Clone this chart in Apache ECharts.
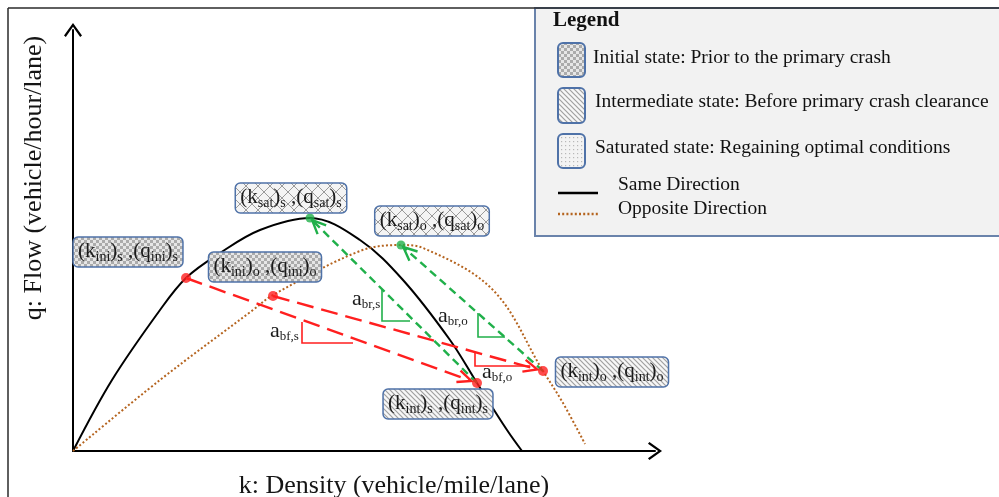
<!DOCTYPE html>
<html><head><meta charset="utf-8">
<script src="https://cdn.jsdelivr.net/npm/echarts@6/dist/echarts.min.js"></script>
<style>html,body{margin:0;padding:0;background:#fff}#c{width:999px;height:497px}</style>
</head><body><div id="c"></div>
<script>
// ---------------- data (density k, flow q in chart units) ----------------
const sameDirK = [0, 39, 87, 113, 147, 187, 237, 287, 330, 377, 404, 434, 449];
const sameDirQ = [0, 71, 141, 173, 198, 221, 233, 211, 171, 111, 68, 21, 0];
const oppDirK  = [0, 87, 180, 200, 287, 328, 350, 420, 470, 490, 512];
const oppDirQ  = [0, 71, 141, 156, 200, 206, 203, 161, 80, 48, 7];

// states: index 0 = same direction (s), index 1 = opposite direction (o)
const initialK      = [113, 200];
const initialQ      = [173, 155];
const intermediateK = [404, 470];
const intermediateQ = [68, 80];
const saturatedK    = [237, 328];
const saturatedQ    = [233, 206];

// slope triangles: [k,q] of top, corner, end
const triBfS = [[229, 129], [229, 108], [280, 108]];
const triBrS = [[309, 161], [309, 130], [337, 130]];
const triBrO = [[405, 138], [405, 114], [432, 114]];
const triBfO = [[402, 98], [402, 85], [457, 85]];
const slopeNames = ['bf,s', 'br,s', 'br,o', 'bf,o'];

const axisNameX = 'k: Density (vehicle/mile/lane)';
const axisNameY = 'q: Flow (vehicle/hour/lane)';
const legendTitle = 'Legend';
const legendTexts = ['Initial state: Prior to the primary crash',
                     'Intermediate state: Before primary crash clearance',
                     'Saturated state: Regaining optimal conditions',
                     'Same Direction', 'Opposite Direction'];

// ---------------- styling / layout ----------------
const FONT = '"Liberation Serif", "Times New Roman", serif';
const RED = '#ff1f1f', GREEN = '#20b04a', ORANGE = '#b5641f', BORDER = '#4f72a8';

function pat(kind) {
  const c = document.createElement('canvas'); const x = c.getContext('2d');
  if (kind === 'checker') {
    c.width = c.height = 6; x.fillStyle = '#e6e6e6'; x.fillRect(0, 0, 6, 6);
    x.fillStyle = '#ababab'; x.fillRect(0, 0, 3, 3); x.fillRect(3, 3, 3, 3);
  } else if (kind === 'cross') {
    c.width = c.height = 12; x.fillStyle = '#f4f4f4'; x.fillRect(0, 0, 12, 12);
    x.strokeStyle = '#9a9a9a'; x.lineWidth = 1; x.beginPath();
    x.moveTo(0, 0); x.lineTo(12, 12); x.moveTo(12, 0); x.lineTo(0, 12); x.stroke();
  } else if (kind === 'hatch') {
    c.width = c.height = 5; x.fillStyle = '#f7f7f7'; x.fillRect(0, 0, 5, 5);
    x.strokeStyle = '#a0a0a0'; x.lineWidth = 1.2; x.beginPath();
    x.moveTo(-1, -1); x.lineTo(6, 6); x.moveTo(-1, 4); x.lineTo(1, 6); x.moveTo(4, -1); x.lineTo(6, 1); x.stroke();
  } else {
    c.width = c.height = 4; x.fillStyle = '#f3f3f3'; x.fillRect(0, 0, 4, 4);
    x.fillStyle = '#b8b8b8'; x.fillRect(1, 1, 1.2, 1.2);
  }
  return { image: c, repeat: 'repeat' };
}
const PAT = { checker: pat('checker'), cross: pat('cross'), hatch: pat('hatch'), dots: pat('dots') };

const mctx = document.createElement('canvas').getContext('2d');
function tw(t, size) { mctx.font = size + 'px ' + FONT; return mctx.measureText(t).width; }
const MS = 21, SS = 14;
const richBox = {
  m: { fontFamily: FONT, fontSize: MS, fill: '#1a1a1a' },
  s: { fontFamily: FONT, fontSize: SS, fill: '#1a1a1a', padding: [12, 0, 0, 0] }
};
function boxParts(v, side) {
  return [['(k', 'm'], [v, 's'], [')', 'm'], [side, 's'], [' ,(q', 'm'], [v, 's'], [')', 'm'], [side, 's']];
}
// box layout relative to the state point (pixels)
const boxLayout = {
  ini_s: { dx: -58, dy: -26, pattern: 'checker', v: 'ini', side: 's' },
  ini_o: { dx: -8,  dy: -29, pattern: 'checker', v: 'ini', side: 'o' },
  sat_s: { dx: -19, dy: -20, pattern: 'cross',   v: 'sat', side: 's' },
  sat_o: { dx: 31,  dy: -24, pattern: 'cross',   v: 'sat', side: 'o' },
  int_s: { dx: -39, dy: 21,  pattern: 'hatch',   v: 'int', side: 's' },
  int_o: { dx: 69,  dy: 1,   pattern: 'hatch',   v: 'int', side: 'o' }
};
const boxKeys = ['ini_s', 'ini_o', 'sat_s', 'sat_o', 'int_s', 'int_o'];
const slopeLabelOffset = [[-32, -12], [-30, -22], [-40, -21], [7, 6]];

// ---------------- build series data from arrays ----------------
const zip = (a, b) => a.map((v, i) => [v, b[i]]);
const boxData = [
  [initialK[0], initialQ[0], 0], [initialK[1], initialQ[1], 1],
  [saturatedK[0], saturatedQ[0], 2], [saturatedK[1], saturatedQ[1], 3],
  [intermediateK[0], intermediateQ[0], 4], [intermediateK[1], intermediateQ[1], 5]
];
const redArrows = [0, 1].map(i => [initialK[i], initialQ[i], intermediateK[i], intermediateQ[i]]);
const greenArrows = [0, 1].map(i => [intermediateK[i], intermediateQ[i], saturatedK[i], saturatedQ[i]]);
const tris = [triBfS, triBrS, triBrO, triBfO];
const triColors = [RED, GREEN, GREEN, RED];
const triData = tris.map((t, i) => [t[0][0], t[0][1], t[1][0], t[1][1], t[2][0], t[2][1], i]);

function arrowRender(color, dash, width, gapEnd) {
  return function (params, api) {
    const p1 = api.coord([api.value(0), api.value(1)]);
    const p2 = api.coord([api.value(2), api.value(3)]);
    const dx = p2[0] - p1[0], dy = p2[1] - p1[1], L = Math.hypot(dx, dy);
    const ux = dx / L, uy = dy / L;
    const tip = [p2[0] - ux * gapEnd, p2[1] - uy * gapEnd];
    const ah = 15, ang = 0.42, c = Math.cos(ang), s = Math.sin(ang);
    const bx = -ux, by = -uy;
    const a1 = [tip[0] + ah * (bx * c - by * s), tip[1] + ah * (bx * s + by * c)];
    const a2 = [tip[0] + ah * (bx * c + by * s), tip[1] + ah * (-bx * s + by * c)];
    return { type: 'group', children: [
      { type: 'line', shape: { x1: p1[0], y1: p1[1], x2: tip[0], y2: tip[1] },
        style: { stroke: color, lineWidth: width, lineDash: dash } },
      { type: 'polyline', shape: { points: [a1, tip, a2] },
        style: { stroke: color, lineWidth: width, fill: null } }
    ]};
  };
}

const CHEV = 'path://M10,0 L20,14 L18,15.6 L10,4.2 L2,15.6 L0,14 Z';

const chart = echarts.init(document.getElementById('c'), null, { renderer: 'canvas' });
const option = {
  animation: false,
  backgroundColor: '#ffffff',
  grid: { left: 73, top: 30, width: 582, height: 421, containLabel: false, outerBoundsMode: 'none' },
  xAxis: {
    type: 'value', min: 0, max: 582, name: axisNameX, nameLocation: 'middle', nameGap: 22,
    nameTextStyle: { fontFamily: FONT, fontSize: 26, color: '#151515', padding: [0, 0, 0, 60] },
    axisLine: { show: true, onZero: false, lineStyle: { color: '#000', width: 2 },
      symbol: ['none', CHEV], symbolSize: [18, 16] },
    axisTick: { show: false }, axisLabel: { show: false }, splitLine: { show: false }
  },
  yAxis: {
    type: 'value', min: 0, max: 421, name: axisNameY, nameLocation: 'middle', nameGap: 26,
    nameTextStyle: { fontFamily: FONT, fontSize: 26, color: '#151515', padding: [0, 0, 0, 125] },
    axisLine: { show: true, onZero: false, lineStyle: { color: '#000', width: 2 },
      symbol: ['none', CHEV], symbolSize: [18, 16] },
    axisTick: { show: false }, axisLabel: { show: false }, splitLine: { show: false }
  },
  series: [
    { name: 'Same Direction', type: 'line', data: zip(sameDirK, sameDirQ), smooth: 0.35,
      showSymbol: false, lineStyle: { color: '#000', width: 2 }, z: 2, silent: true },
    { name: 'Opposite Direction', type: 'line', data: zip(oppDirK, oppDirQ), smooth: 0.35,
      showSymbol: false, lineStyle: { color: ORANGE, width: 2, type: [2, 2.2] }, z: 2, silent: true },
    { type: 'custom', data: triData, renderItem: (p, api) => {
        const pts = [0, 1, 2].map(i => api.coord([api.value(2 * i), api.value(2 * i + 1)]));
        return { type: 'polyline', shape: { points: pts },
          style: { stroke: triColors[api.value(6)], lineWidth: 1.6, fill: null } };
      }, encode: { x: [0, 2, 4], y: [1, 3, 5] }, z: 3, clip: false, silent: true },
    { type: 'custom', data: redArrows, renderItem: arrowRender(RED, [17, 8], 2.4, 6),
      encode: { x: [0, 2], y: [1, 3] }, z: 4, clip: false, silent: true },
    { type: 'custom', data: greenArrows, renderItem: arrowRender(GREEN, [8, 5], 2.4, 3),
      encode: { x: [0, 2], y: [1, 3] }, z: 4, clip: false, silent: true },
    { type: 'scatter', data: zip(initialK.concat(intermediateK), initialQ.concat(intermediateQ)),
      symbolSize: 10, itemStyle: { color: RED }, z: 6, silent: true },
    { type: 'scatter', data: zip(saturatedK, saturatedQ),
      symbolSize: 9, itemStyle: { color: GREEN }, z: 6, silent: true },
    { type: 'custom', data: tris.map((t, i) => [t[1][0], t[1][1], i]), renderItem: (p, api) => {
        const i = api.value(2); const c = api.coord([api.value(0), api.value(1)]);
        const o = slopeLabelOffset[i];
        return { type: 'text', x: c[0] + o[0], y: c[1] + o[1],
          style: { text: '{a|a}{s|' + slopeNames[i] + '}', align: 'left', verticalAlign: 'middle',
            rich: { a: { fontFamily: FONT, fontSize: 22, fill: '#1a1a1a' },
                    s: { fontFamily: FONT, fontSize: 13, fill: '#1a1a1a', padding: [12, 0, 0, 0] } } } };
      }, z: 7, clip: false, silent: true },
    { type: 'custom', data: boxData, renderItem: (p, api) => {
        const key = boxKeys[api.value(2)]; const lay = boxLayout[key];
        const c = api.coord([api.value(0), api.value(1)]);
        const cx = c[0] + lay.dx, cy = c[1] + lay.dy;
        const parts = boxParts(lay.v, lay.side);
        const w0 = parts.reduce((s, q) => s + tw(q[0], q[1] === 'm' ? MS : SS), 0);
        const w = w0 + 10, h = 30;
        return { type: 'group', children: [
          { type: 'rect', shape: { x: cx - w / 2, y: cy - h / 2, width: w, height: h, r: 5 },
            style: { fill: PAT[lay.pattern], stroke: BORDER, lineWidth: 1.5 } },
          { type: 'text', x: cx - w0 / 2, y: cy - 1,
            style: { text: parts.map(q => '{' + q[1] + '|' + q[0] + '}').join(''),
              align: 'left', verticalAlign: 'middle', rich: richBox } }
        ]};
      }, z: 8, clip: false, silent: true }
  ],
  graphic: [
    { type: 'rect', shape: { x: 535, y: 8, width: 480, height: 228 },
      style: { fill: '#f2f2f2', stroke: '#6a83ab', lineWidth: 2 }, z: 10 },
    { type: 'line', shape: { x1: 8, y1: 8, x2: 999, y2: 8 }, style: { stroke: '#2a2a2a', lineWidth: 1.5 }, z: 11 },
    { type: 'line', shape: { x1: 8, y1: 8, x2: 8, y2: 497 }, style: { stroke: '#2a2a2a', lineWidth: 1.5 }, z: 11 },
    { type: 'text', x: 553, y: 21, style: { text: legendTitle, font: 'bold 21px ' + FONT, fill: '#111', verticalAlign: 'middle' }, z: 11 },
    { type: 'rect', shape: { x: 558, y: 43, width: 27, height: 34, r: 5 }, style: { fill: PAT.checker, stroke: BORDER, lineWidth: 2 }, z: 11 },
    { type: 'rect', shape: { x: 558, y: 88, width: 27, height: 35, r: 5 }, style: { fill: PAT.hatch, stroke: BORDER, lineWidth: 2 }, z: 11 },
    { type: 'rect', shape: { x: 558, y: 134, width: 27, height: 34, r: 5 }, style: { fill: PAT.dots, stroke: BORDER, lineWidth: 2 }, z: 11 },
    { type: 'text', x: 593, y: 58, style: { text: legendTexts[0], font: '19.5px ' + FONT, fill: '#111', verticalAlign: 'middle' }, z: 11 },
    { type: 'text', x: 595, y: 102, style: { text: legendTexts[1], font: '19.5px ' + FONT, fill: '#111', verticalAlign: 'middle' }, z: 11 },
    { type: 'text', x: 595, y: 148, style: { text: legendTexts[2], font: '19.5px ' + FONT, fill: '#111', verticalAlign: 'middle' }, z: 11 },
    { type: 'line', shape: { x1: 558, y1: 193, x2: 598, y2: 193 }, style: { stroke: '#000', lineWidth: 2.5 }, z: 11 },
    { type: 'text', x: 618, y: 185, style: { text: legendTexts[3], font: '19.5px ' + FONT, fill: '#111', verticalAlign: 'middle' }, z: 11 },
    { type: 'line', shape: { x1: 558, y1: 214, x2: 598, y2: 214 }, style: { stroke: ORANGE, lineWidth: 2.5, lineDash: [2, 2.2] }, z: 11 },
    { type: 'text', x: 618, y: 209, style: { text: legendTexts[4], font: '19.5px ' + FONT, fill: '#111', verticalAlign: 'middle' }, z: 11 }
  ]
};
chart.setOption(option);
</script>
</body></html>
